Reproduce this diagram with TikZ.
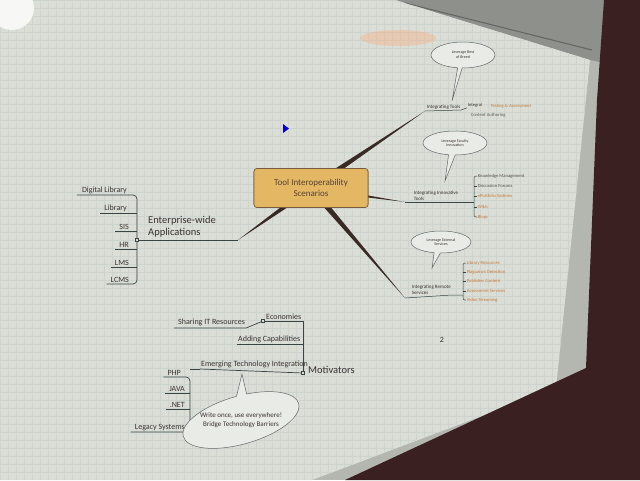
\documentclass[tikz,border=0pt]{standalone}
\usepackage{fontspec}
\setmainfont{Carlito}
\usetikzlibrary{shapes.geometric,shapes.callouts,calc}
\definecolor{txt}{HTML}{3A3232}
\definecolor{org}{HTML}{C8783A}
\definecolor{uln}{HTML}{3A4444}
\definecolor{cfill}{HTML}{E4B764}
\definecolor{cdraw}{HTML}{7A5A3A}
\definecolor{branchc}{HTML}{3A2A24}
\definecolor{screen}{HTML}{DADED6}
\definecolor{gridc}{HTML}{CDD4CE}
\definecolor{bezel}{HTML}{B4B6B0}
\definecolor{toolbar}{HTML}{8E908C}
\definecolor{darkm}{HTML}{3A2020}
\tikzset{
  lbl/.style={text=txt, inner sep=1pt, font=\fontsize{8}{9}\selectfont},
  big/.style={text=txt, inner sep=1pt, align=left, font=\fontsize{10.5}{11.5}\selectfont},
  small/.style={text=txt, inner sep=0.6pt, align=left, font=\fontsize{5}{5.6}\selectfont},
  item/.style={text=org, inner sep=0.6pt, anchor=west, font=\fontsize{4.6}{5}\selectfont},
  uline/.style={draw=uln, line width=0.7pt},
  thin/.style={draw=uln, line width=0.5pt},
  centre/.style={draw=cdraw, fill=cfill, rounded corners=3pt, line width=0.6pt,
    minimum width=114pt, minimum height=39pt, align=center, text=txt!80!brown,
    font=\fontsize{9}{11}\selectfont},
  bubble/.style={ellipse callout, draw=uln!80, fill=screen!60!white, line width=0.5pt,
    text=txt, align=center, inner sep=1pt, callout pointer arc=12,
    font=\fontsize{4}{4.6}\selectfont},
  branch/.style={fill=branchc}
}
\begin{document}
\begin{tikzpicture}[x=1pt,y=-1pt]
\useasboundingbox (0,0) rectangle (640,480);
% photo background: bezel, toolbar, screen, monitor
\fill[bezel] (0,0) rectangle (640,480);
\fill[toolbar] (395,0) -- (605,0) -- (600,62) -- (590,60) -- cycle;
\draw[toolbar!70!black, line width=1pt] (405,3) -- (592,50);
\begin{scope}
\clip (0,0) -- (395,0) -- (590,60) -- (556,388) -- (312,480) -- (0,480) -- cycle;
\fill[screen] (0,0) rectangle (640,480);
\draw[gridc, line width=0.3pt, xstep=8pt, ystep=8pt] (0,480) grid (640,0);
\fill[white, opacity=0.8] (12,8) circle (22);
\end{scope}
\fill[darkm] (604,0) -- (640,0) -- (640,480) -- (345,480) -- (586,368) -- (597,100) -- cycle;
\fill[pink!60!orange, opacity=0.35] (398,38) ellipse (38 and 8);
% slide number and cursor
\node[text=txt, font=\fontsize{8}{9}\selectfont] (num) at (442,340) {2};
\fill[blue!80!black] (283,124) -- (289,128.5) -- (283,133) -- cycle;

% ---- centre and thick branches
\coordinate (eLeft) at (238,240);
\coordinate (eTop) at (425,111);
\coordinate (eMid) at (405,202);
\coordinate (eLow) at (405,298);
\node[centre] (c) at (311,188) {Tool Interoperability\\Scenarios};
\foreach \e/\s in {eLeft/3.2pt, eTop/3.2pt, eMid/2.6pt, eLow/3.2pt}{
  \fill[branch] ($(c.center)!\s!90:(\e)$) -- (\e) -- ($(c.center)!\s!-90:(\e)$) -- cycle;
}
\node[centre] (c2) at (c.center) {Tool Interoperability\\Scenarios};

% ---- left: enterprise-wide applications
\coordinate (brL) at (137,0);
\node[big, anchor=south west] (ent) at (147,238) {Enterprise-wide\\Applications};
\node[lbl, anchor=south east] (dl) at (128,195) {Digital Library};
\node[lbl, anchor=south east] (lib) at (128,213) {Library};
\node[lbl, anchor=south east] (sis) at (130,231) {SIS};
\node[lbl, anchor=south east] (hr) at (130,249) {HR};
\node[lbl, anchor=south east] (lms) at (130,267) {LMS};
\node[lbl, anchor=south east] (lcms) at (130,284) {LCMS};
\draw[uline, rounded corners=4pt] ([xshift=-4pt]dl.south west) -- (dl.south east -| brL)
   -- (lcms.south east -| brL) -- ([xshift=-3pt]lcms.south west);
\foreach \n in {lib,sis,hr,lms}{
  \draw[uline, rounded corners=3pt] ([xshift=-3pt]\n.south west) -- (\n.south east -| brL);
}
\node[draw=uln, fill=screen, inner sep=0pt, minimum size=3pt] (jL) at (brL |- eLeft) {};
\draw[uline] (jL) -- (eLeft);

% ---- right top: integrating tools
\node[small, anchor=south west] (it) at (426,110) {Integrating Tools};
\coordinate (tTop) at (452,101);
\node[bubble, callout absolute pointer={(tTop)}, minimum width=64pt, minimum height=26pt, callout pointer arc=8] (b1) at (463,55) {Leverage Best\\of Breed};
\node[item, text=txt] (t1a) at (467,105) {Integral};
\node[item] (t1b) at (490,106) {Testing \& Assessment};
\node[item, text=txt!80] (t1c) at (470,115) {Content Authoring};
\draw[thin] (eTop) -- (it.south east) -- (t1a.south west);

% ---- right middle: integrating innovative tools
\node[small, anchor=south west] (iit) at (413,201) {Integrating Innovative\\Tools};
\coordinate (tMid) at (445,181);
\node[bubble, callout absolute pointer={(tMid)}, minimum width=64pt, minimum height=24pt] (b2) at (455,143) {Leverage Faculty\\Innovation};
\coordinate (brM) at (474,0);
\node[item, text=txt!85] (m1) at (477,176) {Knowledge Management};
\node[item, text=txt!85] (m2) at (477,186) {Discussion Forums};
\node[item] (m3) at (477,196) {ePortfolio Systems};
\node[item] (m4) at (477,207) {Wikis};
\node[item] (m5) at (477,217) {Blogs};
\draw[thin] (eMid) -- (eMid -| brM);
\draw[thin, rounded corners=2pt] (m1.west) -- (m1.west -| brM) -- (m5.west -| brM) -- (m5.west);
\foreach \n in {m2,m3,m4}{ \draw[thin] (\n.west) -- (\n.west -| brM); }

% ---- right low: integrating remote services
\node[small, anchor=south west] (irs) at (411,295) {Integrating Remote\\Services};
\coordinate (tLow) at (432,268);
\node[bubble, callout absolute pointer={(tLow)}, minimum width=60pt, minimum height=22pt] (b3) at (441,242) {Leverage External\\Services};
\coordinate (brR) at (463,0);
\node[item] (r1) at (466,263) {Library Resources};
\node[item] (r2) at (466,272) {Plagiarism Detection};
\node[item] (r3) at (466,281) {Publisher Content};
\node[item] (r4) at (466,291) {Assessment Services};
\node[item] (r5) at (466,300) {Video Streaming};
\draw[thin] (eLow) -- (irs.south east) -- (irs.south east -| brR);
\draw[thin, rounded corners=2pt] (r1.west) -- (r1.west -| brR) -- (r5.west -| brR) -- (r5.west);
\foreach \n in {r2,r3,r4}{ \draw[thin] (\n.west) -- (\n.west -| brR); }

% ---- bottom: motivators
\coordinate (brB) at (303,0);
\node[draw=uln, fill=screen, inner sep=0pt, minimum size=3pt] (jm) at (303,373) {};
\node[big, anchor=west] (mot) at (307,370) {Motivators};
\node[lbl, anchor=south west] (eco) at (265,321) {Economies};
\node[lbl, anchor=south west] (sha) at (177,327) {Sharing IT Resources};
\node[lbl, anchor=south west] (add) at (237,344) {Adding Capabilities};
\node[lbl, anchor=south west] (emt) at (200,369) {Emerging Technology Integration};
\node[draw=uln, fill=screen, inner sep=0pt, minimum size=3pt] (je) at ([xshift=-2pt]eco.south west) {};
\draw[uline] (jm) -- (jm |- eco.south) -- (je);
\draw[uline] (je) -- ([yshift=-1pt]sha.south east) -- ([xshift=-3pt,yshift=-1pt]sha.south west);
\draw[uline] (add.south west) -- (add.south -| brB);
\draw[uline] (emt.south west) -- (jm);
\coordinate (brE) at (190,0);
\node[lbl, anchor=south east] (php) at (182,377) {PHP};
\node[lbl, anchor=south east] (java) at (186,393) {JAVA};
\node[lbl, anchor=south east] (net) at (186,409) {.NET};
\node[lbl, anchor=south east] (leg) at (186,432) {Legacy Systems};
\draw[uline, rounded corners=4pt] ([xshift=-3pt]php.south west) -- (php.south east -| brE)
   -- (leg.south east -| brE) -- ([xshift=-3pt]leg.south west);
\foreach \n in {java,net}{ \draw[uline, rounded corners=3pt] ([xshift=-3pt]\n.south west) -- (\n.south east -| brE); }
\draw[uline] (brE |- emt.south) -- (emt.south west);
\coordinate (tB) at (242,374);
\node[bubble, callout absolute pointer={(tB)}, rotate=16, minimum width=120pt, minimum height=48pt, callout pointer arc=10] (b4) at (241,420) {};
\node[text=txt, align=center, inner sep=1pt, font=\fontsize{7}{8.5}\selectfont] (b4t) at (b4.center) {Write once, use everywhere!\\Bridge Technology Barriers};
\end{tikzpicture}
\end{document}
